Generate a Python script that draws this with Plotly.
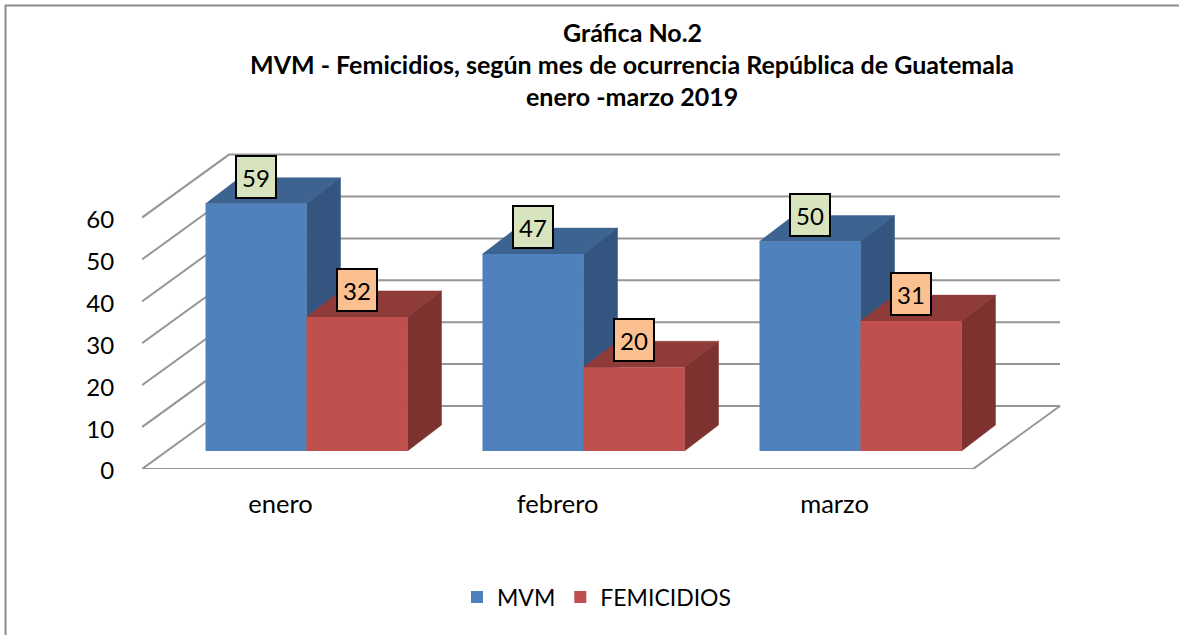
import plotly.graph_objects as go

months = ["enero", "febrero", "marzo"]
mvm = [59, 47, 50]
femicidios = [32, 20, 31]
ticks = [0, 10, 20, 30, 40, 50, 60]
title_lines = ["Gráfica No.2", "MVM - Femicidios, según mes de ocurrencia República de Guatemala", "enero -marzo 2019"]

FONT = "Lato, Carlito, Calibri, sans-serif"
W, H = 1179, 635
L, R, T, B = 142, 1070, 145, 469
PX_X = 277                  # pixels per category
PX_Y = 251.4 / 60           # pixels per value unit


def sx(px):
    return px / PX_X


def sy(px):
    return px / PX_Y


WALL_DX, WALL_DY = sx(87), sy(63)
BAR_SHIFT_X, BAR_BASE = sx(26), sy(18)
BAR_W = sx(101)
DEPTH_X, DEPTH_Y = sx(34), sy(26)
X_MIN, X_FRONT_MAX = -0.5, 2.5
X_MAX = X_MIN + (R - L) / PX_X
Y_MAX = (B - T) / PX_Y


def paper_x(px):
    return (px - L) / (R - L)


def paper_y(px):
    return (B - px) / (B - T)


traces = []
GRID = "#969696"
for v in ticks:
    xs = [X_MIN, X_MIN + WALL_DX, X_FRONT_MAX + WALL_DX]
    ys = [v, v + WALL_DY, v + WALL_DY]
    if v == 0:
        xs = xs + [X_FRONT_MAX, X_MIN]
        ys = ys + [0, 0]
    traces.append(go.Scatter(x=xs, y=ys, mode="lines", line=dict(color=GRID, width=2),
                             showlegend=False, hoverinfo="skip", cliponaxis=False, zorder=0))


def box_faces(x0, top, color_top, color_side):
    x1 = x0 + BAR_W
    base = BAR_BASE
    faces = [
        ([x0, x1, x1 + DEPTH_X, x0 + DEPTH_X, x0], [top, top, top + DEPTH_Y, top + DEPTH_Y, top], color_top),
        ([x1, x1 + DEPTH_X, x1 + DEPTH_X, x1, x1], [base, base + DEPTH_Y, top + DEPTH_Y, top, base], color_side),
    ]
    return [go.Scatter(x=xs, y=ys, mode="lines", fill="toself", fillcolor=c, line=dict(color=c, width=0.5),
                       showlegend=False, hoverinfo="skip", cliponaxis=False, zorder=1)
            for xs, ys, c in faces]


annotations = []
series = [
    ("MVM", mvm, -1, "#4F81BD", "#3D6491", "#34557F", "#D7E4BD"),
    ("FEMICIDIOS", femicidios, 0, "#C0504D", "#8F3B39", "#7E3230", "#FAC090"),
]
for name, values, off, col, col_top, col_side, col_lab in series:
    for i, v in enumerate(values):
        x0 = i + BAR_SHIFT_X + off * BAR_W
        traces.extend(box_faces(x0, v + BAR_BASE, col_top, col_side))
        annotations.append(dict(
            x=x0 + BAR_W / 2, y=v + BAR_BASE + DEPTH_Y, xref="x", yref="y", text=str(v), showarrow=False,
            font=dict(family=FONT, size=24, color="black"), bgcolor=col_lab, bordercolor="black",
            borderwidth=2, width=38, height=40, borderpad=0, xanchor="center", yanchor="middle", yshift=1))
    traces.append(go.Bar(
        x=[i + BAR_SHIFT_X + (off + 0.5) * BAR_W for i in range(3)], y=values, base=BAR_BASE, width=BAR_W,
        name=name, marker=dict(color=col, line=dict(width=0)), cliponaxis=False, zorder=2))

fig = go.Figure(traces)
for i, line in enumerate(title_lines):
    annotations.append(dict(
        xref="paper", yref="paper", x=paper_x(632), y=paper_y(32 + i * 32), text=f"<b>{line}</b>",
        showarrow=False, font=dict(family=FONT, size=25, color="black"), xanchor="center", yanchor="middle"))

fig.update_layout(
    width=W, height=H,
    margin=dict(l=L, r=W - R, t=T, b=H - B, pad=0, autoexpand=False),
    paper_bgcolor="white", plot_bgcolor="rgba(0,0,0,0)",
    barmode="overlay",
    font=dict(family=FONT, size=24, color="black"),
    xaxis=dict(range=[X_MIN, X_MAX], tickmode="array", tickvals=[0, 1, 2], ticktext=months,
               showgrid=False, zeroline=False, showline=False, ticks="outside", ticklen=12,
               tickcolor="rgba(0,0,0,0)", tickfont=dict(family=FONT, size=25.5, color="black")),
    yaxis=dict(range=[0, Y_MAX], tickmode="array", tickvals=ticks, showgrid=False, zeroline=False,
               showline=False, ticks="outside", ticklen=22, tickcolor="rgba(0,0,0,0)", ticklabelshift=2,
               tickfont=dict(family=FONT, size=24, color="black")),
    legend=dict(orientation="h", x=paper_x(597), y=paper_y(597), xanchor="center", yanchor="middle",
                font=dict(family=FONT, size=23, color="black"), traceorder="normal", itemclick=False,
                itemdoubleclick=False, bgcolor="rgba(0,0,0,0)"),
    annotations=annotations,
    shapes=[
        dict(type="line", xref="paper", yref="paper", x0=paper_x(5), x1=paper_x(W),
             y0=paper_y(5.5), y1=paper_y(5.5), line=dict(color="#8C8C8C", width=2)),
        dict(type="line", xref="paper", yref="paper", x0=paper_x(5.5), x1=paper_x(5.5),
             y0=paper_y(5), y1=paper_y(H), line=dict(color="#8C8C8C", width=2)),
    ],
)

fig.write_html("out.html", config=dict(displayModeBar=False),
               post_script="document.body.style.margin='0';")
